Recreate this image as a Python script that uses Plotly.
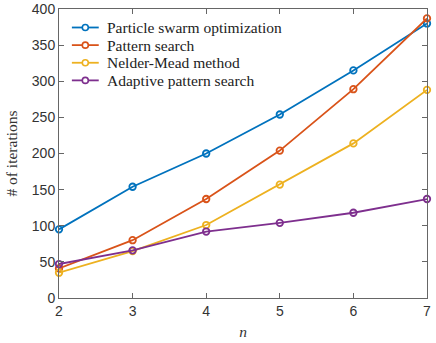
import plotly.graph_objects as go

n = [2, 3, 4, 5, 6, 7]
pso = [95, 154, 200, 254, 315, 380]
pattern = [41, 80, 137, 204, 289, 387]
nelder = [35, 65, 101, 157, 214, 288]
adaptive = [47, 66, 92, 104, 118, 137]

names = ["Particle swarm optimization", "Pattern search", "Nelder-Mead method", "Adaptive pattern search"]
colors = ["#0072BD", "#D95319", "#EDB120", "#7E2F8E"]

fig = go.Figure()
for name, ys, c in zip(names, [pso, pattern, nelder, adaptive], colors):
    fig.add_trace(go.Scatter(
        x=n, y=ys, name=name, mode="lines+markers", cliponaxis=False, showlegend=False,
        line=dict(color=c, width=1.8),
        marker=dict(symbol="circle-open", size=6.5, color=c, line=dict(width=1.8)),
    ))

# compact MATLAB-style legend (plotly's own legend rows are too tall)
leg_font = dict(family="Liberation Serif, Times New Roman", size=15.5, color="#222222")
for i, (name, c) in enumerate(zip(names, colors)):
    yy = 0.936 - i * 0.061
    fig.add_shape(type="line", xref="paper", yref="paper", x0=0.035, x1=0.108, y0=yy, y1=yy,
                  line=dict(color=c, width=1.8))
    fig.add_shape(type="circle", xref="paper", yref="paper", xsizemode="pixel", ysizemode="pixel",
                  xanchor=0.0715, yanchor=yy, x0=-3, x1=3, y0=-3, y1=3,
                  line=dict(color=c, width=1.6), fillcolor="white")
    fig.add_annotation(text=name, xref="paper", yref="paper", x=0.126, y=yy,
                       xanchor="left", yanchor="middle", showarrow=False, font=leg_font)

axis_common = dict(
    showgrid=False, zeroline=False, showline=True, linecolor="#666666", linewidth=1,
    mirror="ticks", ticks="inside", ticklen=5, tickcolor="#666666",
    ticklabeloverflow="allow",
    tickfont=dict(family="Liberation Sans, Arial", size=14, color="#333333"),
)
title_font = dict(family="Liberation Serif, Times New Roman", size=15.5, color="#333333")

fig.update_layout(
    width=436, height=343,
    margin=dict(l=59, r=5, t=9, b=40),
    plot_bgcolor="white", paper_bgcolor="white",
    xaxis=dict(range=[2, 7], dtick=1,
               title=dict(text="<i>n</i>", standoff=8, font=title_font),
               **axis_common),
    yaxis=dict(range=[0, 400], dtick=50, automargin=False,
               title=dict(text="# of iterations", standoff=10, font=title_font),
               **axis_common),
)

# drop the browser's default body margin so the figure sits at the page corner
fig.write_html("out.html", config={"displayModeBar": False},
               post_script="document.body.style.margin='0';")
